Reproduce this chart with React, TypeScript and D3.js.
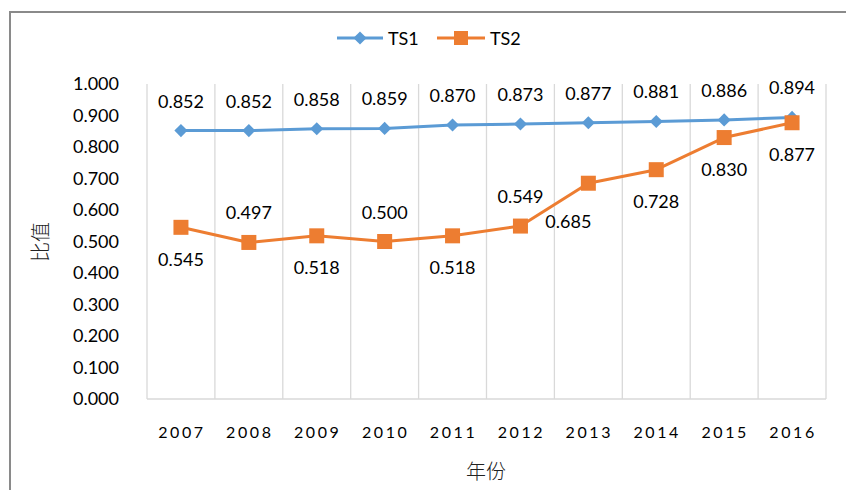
import React from "react";
import * as d3 from "d3";

const years = ["2007", "2008", "2009", "2010", "2011", "2012", "2013", "2014", "2015", "2016"];
const ts1 = [0.852, 0.852, 0.858, 0.859, 0.87, 0.873, 0.877, 0.881, 0.886, 0.894];
const ts2 = [0.545, 0.497, 0.518, 0.5, 0.518, 0.549, 0.685, 0.728, 0.83, 0.877];
const yTicks = [0, 0.1, 0.2, 0.3, 0.4, 0.5, 0.6, 0.7, 0.8, 0.9, 1.0];
// label placement for TS2 data labels
const ts2Placement = ["below", "above", "below", "above", "below", "above", "belowLeft", "below", "below", "below"];

const W = 846;
const H = 490;
const LEFT = 147;
const RIGHT = 826;
const TOP = 84;
const BOTTOM = 399;
const BLUE = "#5B9BD5";
const ORANGE = "#ED7D31";
const FONT = "Lato, 'Noto Sans', sans-serif";
const CJK = "'Noto Sans CJK SC', sans-serif";

export default function App() {
  const x = d3.scaleBand<string>().domain(years).range([LEFT, RIGHT]).padding(0);
  const y = d3.scaleLinear().domain([0, 1]).range([BOTTOM, TOP]);
  const cx = (i: number) => (x(years[i]) as number) + x.bandwidth() / 2;
  const line = d3
    .line<number>()
    .x((_, i) => cx(i))
    .y((d) => y(d));
  const diamond = d3.symbol().type(d3.symbolDiamond2 ?? d3.symbolDiamond).size(110)();
  const gridX = years.map((yr) => x(yr) as number).concat([RIGHT]);

  const placeOffset = (p: string) => {
    if (p === "above") return { dx: 0, dy: -23 };
    if (p === "belowLeft") return { dx: -20, dy: 45 };
    return { dx: 0, dy: 38.5 };
  };

  return (
    <svg width={W} height={H} style={{ position: "absolute", left: 0, top: 0, background: "#fff" }}>
      <rect x={0} y={0} width={W} height={H} fill="#fff" />
      <rect x={10} y={12} width={W + 50} height={H + 50} fill="none" stroke="#8a8a8a" strokeWidth={2} />

      {/* legend */}
      <g>
        <line x1={337} x2={383} y1={38} y2={38} stroke={BLUE} strokeWidth={3} />
        <path d={diamond} transform={`translate(360,38)`} fill={BLUE} />
        <text x={388} y={45} fontFamily={FONT} fontSize={18} fill="#000">TS1</text>
        <line x1={437} x2={485} y1={38} y2={38} stroke={ORANGE} strokeWidth={3} />
        <rect x={454} y={31} width={14} height={14} fill={ORANGE} />
        <text x={490} y={45} fontFamily={FONT} fontSize={18} fill="#000">TS2</text>
      </g>

      {/* vertical gridlines */}
      {gridX.map((gx, i) => (
        <line key={i} x1={gx} x2={gx} y1={TOP} y2={BOTTOM} stroke="#D9D9D9" strokeWidth={1.3} />
      ))}
      <line x1={LEFT} x2={RIGHT} y1={BOTTOM} y2={BOTTOM} stroke="#D9D9D9" strokeWidth={1.5} />

      {/* y tick labels */}
      {yTicks.map((t) => (
        <text key={t} x={119} y={y(t) + 6} textAnchor="end" fontFamily={FONT} fontSize={18} fill="#000">
          {d3.format(".3f")(t)}
        </text>
      ))}

      {/* x tick labels */}
      {years.map((yr, i) => (
        <text key={yr} x={cx(i) + 1} y={438} textAnchor="middle" fontFamily={FONT} fontSize={16} letterSpacing={2.6} fill="#000">
          {yr}
        </text>
      ))}

      {/* axis titles */}
      <text x={486} y={479} textAnchor="middle" fontFamily={CJK} fontWeight={300} fontSize={20} fill="#222">年份</text>
      <text transform="translate(48,242) rotate(-90)" textAnchor="middle" fontFamily={CJK} fontWeight={300} fontSize={20} fill="#222">比值</text>

      {/* series lines */}
      <path d={line(ts1) as string} fill="none" stroke={BLUE} strokeWidth={3} strokeLinejoin="round" />
      <path d={line(ts2) as string} fill="none" stroke={ORANGE} strokeWidth={3} strokeLinejoin="round" />

      {ts1.map((v, i) => (
        <path key={"d" + i} d={diamond} transform={`translate(${cx(i)},${y(v)})`} fill={BLUE} />
      ))}
      {ts2.map((v, i) => (
        <rect key={"s" + i} x={cx(i) - 7.5} y={y(v) - 7.5} width={15} height={15} fill={ORANGE} />
      ))}

      {/* data labels */}
      {ts1.map((v, i) => (
        <text key={"l1" + i} x={cx(i)} y={y(v) - 23} textAnchor="middle" fontFamily={FONT} fontSize={18} fill="#000">
          {d3.format(".3f")(v)}
        </text>
      ))}
      {ts2.map((v, i) => {
        const o = placeOffset(ts2Placement[i]);
        return (
          <text key={"l2" + i} x={cx(i) + o.dx} y={y(v) + o.dy} textAnchor="middle" fontFamily={FONT} fontSize={18} fill="#000">
            {d3.format(".3f")(v)}
          </text>
        );
      })}
    </svg>
  );
}
